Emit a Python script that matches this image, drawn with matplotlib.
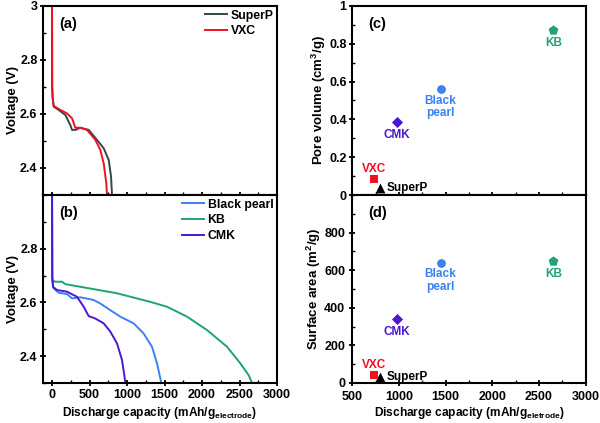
import numpy as np
import matplotlib.pyplot as plt
from matplotlib.ticker import MultipleLocator

plt.rcParams['font.family'] = ['Liberation Sans', 'DejaVu Sans']
plt.rcParams['font.weight'] = 'bold'
plt.rcParams['axes.labelweight'] = 'bold'
plt.rcParams['mathtext.fontset'] = 'custom'
plt.rcParams['mathtext.rm'] = 'Liberation Sans:bold'
plt.rcParams['mathtext.bf'] = 'Liberation Sans:bold'
plt.rcParams['mathtext.default'] = 'bf'

# discharge curves (capacity mAh/g, voltage V)
superp_cap = [0, 2, 9, 22, 89, 178, 244, 267, 311, 378, 489, 600, 689, 756, 787, 800]
superp_v = [3.05, 2.70, 2.66, 2.627, 2.615, 2.596, 2.559, 2.541, 2.541, 2.549, 2.541, 2.504, 2.473, 2.43, 2.368, 2.30]
vxc_cap = [0, 2, 8, 22, 111, 200, 267, 311, 378, 467, 578, 644, 689, 724, 733]
vxc_v = [3.05, 2.70, 2.66, 2.63, 2.615, 2.602, 2.584, 2.549, 2.549, 2.541, 2.504, 2.467, 2.417, 2.343, 2.30]
bp_cap = [0, 3, 22, 89, 200, 267, 378, 556, 644, 778, 911, 1089, 1222, 1333, 1400, 1458]
bp_v = [3.05, 2.68, 2.652, 2.636, 2.631, 2.615, 2.619, 2.609, 2.596, 2.571, 2.547, 2.522, 2.484, 2.435, 2.373, 2.30]
kb_cap = [0, 3, 44, 133, 178, 422, 867, 1311, 1533, 1800, 2067, 2333, 2511, 2622, 2667]
kb_v = [3.05, 2.683, 2.677, 2.677, 2.668, 2.656, 2.634, 2.602, 2.584, 2.547, 2.497, 2.435, 2.373, 2.329, 2.30]
cmk_cap = [0, 3, 13, 67, 200, 333, 422, 489, 578, 689, 778, 867, 933, 964, 978]
cmk_v = [3.05, 2.70, 2.658, 2.646, 2.64, 2.621, 2.584, 2.549, 2.540, 2.522, 2.491, 2.447, 2.386, 2.329, 2.30]

# properties vs capacity
names = ["SuperP", "VXC", "CMK", "Black\npearl", "KB"]
capacity = [795, 734, 979, 1447, 2655]
pore_volume = [0.035, 0.085, 0.386, 0.56, 0.875]
surface_area = [30, 43, 341, 640, 651]

c_superp_line = "#34464a"
c_vxc = "#f01020"
c_bp = "#3a82f2"
c_kb = "#1fa274"
c_cmk = "#4a18d2"
point_colors = ["black", c_vxc, c_cmk, c_bp, c_kb]
markers = ["^", "s", "D", "o", "p"]
msizes = [50, 40, 32, 40, 55]

fig = plt.figure(figsize=(6, 4.23), dpi=100)
ax_a = fig.add_axes([0.0717, 0.539, 0.39, 0.447])
ax_b = fig.add_axes([0.0717, 0.0946, 0.39, 0.4444])
ax_c = fig.add_axes([0.587, 0.539, 0.389, 0.447])
ax_d = fig.add_axes([0.587, 0.0946, 0.389, 0.4444])


def style(ax):
    for s in ax.spines.values():
        s.set_linewidth(1.5)
    ax.tick_params(which='major', direction='inout', length=5, width=1.3, labelsize=9, pad=1.5)
    ax.tick_params(which='minor', direction='in', length=2.5, width=1.0)


lw = 1.4
ax_a.plot(superp_cap, superp_v, color=c_superp_line, lw=lw, label="SuperP")
ax_a.plot(vxc_cap, vxc_v, color=c_vxc, lw=lw, label="VXC")
ax_b.plot(bp_cap, bp_v, color=c_bp, lw=lw, label="Black pearl")
ax_b.plot(kb_cap, kb_v, color=c_kb, lw=lw, label="KB")
ax_b.plot(cmk_cap, cmk_v, color=c_cmk, lw=lw, label="CMK")

for ax, letter in [(ax_a, "(a)"), (ax_b, "(b)")]:
    style(ax)
    ax.set_xlim(-120, 3000)
    ax.set_ylim(2.3, 3.0)
    ax.xaxis.set_major_locator(MultipleLocator(500))
    ax.xaxis.set_minor_locator(MultipleLocator(250))
    ax.yaxis.set_major_locator(MultipleLocator(0.2))
    ax.yaxis.set_minor_locator(MultipleLocator(0.1))
    ax.set_ylabel("Voltage (V)", fontsize=9.5, labelpad=1)
    ax.text(0.07, 0.905, letter, transform=ax.transAxes, fontsize=10.5, fontweight='bold', va='center')
    ax.legend(loc='upper right', frameon=False, fontsize=8.8, handlelength=1.8,
              handletextpad=0.3, labelspacing=0.3, borderpad=0.2, borderaxespad=0.1)

ax_a.set_yticks([2.4, 2.6, 2.8, 3.0])
ax_a.set_yticklabels(["2.4", "2.6", "2.8", "3"])
ax_a.tick_params(labelbottom=False)
ax_b.set_yticks([2.4, 2.6, 2.8])
ax_b.set_xticks([0, 500, 1000, 1500, 2000, 2500, 3000])
ax_b.set_xlabel(r"Discharge capacity (mAh/g$_{electrode}$)", fontsize=8.6, labelpad=3)

for i in range(len(names)):
    ax_c.scatter(capacity[i], pore_volume[i], marker=markers[i], s=msizes[i],
                 color=point_colors[i], zorder=3, linewidths=0)
    ax_d.scatter(capacity[i], surface_area[i], marker=markers[i], s=msizes[i],
                 color=point_colors[i], zorder=3, linewidths=0)

# label placements (offsets in points)
offsets = [(5, 0, 'left', 'center'), (0, 3, 'center', 'bottom'), (0, -5, 'center', 'top'),
           (0, -4, 'center', 'top'), (0, -5, 'center', 'top')]
for ax, yvals in [(ax_c, pore_volume), (ax_d, surface_area)]:
    for i in range(len(names)):
        dx, dy, ha, va = offsets[i]
        c = "black" if i == 0 else point_colors[i]
        ax.annotate(names[i], (capacity[i], yvals[i]), xytext=(dx, dy), textcoords='offset points',
                    ha=ha, va=va, color=c, fontsize=8.5, fontweight='bold', linespacing=1.05)

for ax in [ax_c, ax_d]:
    style(ax)
    ax.set_xlim(500, 3000)
    ax.xaxis.set_major_locator(MultipleLocator(500))
    ax.xaxis.set_minor_locator(MultipleLocator(250))

ax_c.set_ylim(0, 1)
ax_c.yaxis.set_major_locator(MultipleLocator(0.2))
ax_c.yaxis.set_minor_locator(MultipleLocator(0.1))
ax_c.set_yticks([0, 0.2, 0.4, 0.6, 0.8, 1.0])
ax_c.set_yticklabels(["0", "0.2", "0.4", "0.6", "0.8", "1"])
ax_c.tick_params(labelbottom=False)
ax_c.set_ylabel(r"Pore volume (cm$^3$/g)", fontsize=9.5, labelpad=1)
ax_c.text(0.07, 0.905, "(c)", transform=ax_c.transAxes, fontsize=10.5, fontweight='bold', va='center')

ax_d.set_ylim(0, 1000)
ax_d.set_yticks([0, 200, 400, 600, 800])
ax_d.yaxis.set_minor_locator(MultipleLocator(100))
ax_d.set_xticks([500, 1000, 1500, 2000, 2500, 3000])
ax_d.tick_params(axis='x', which='major', pad=3)
ax_d.tick_params(axis='y', which='major', pad=2.5)
ax_d.set_ylabel(r"Surface area (m$^2$/g)", fontsize=9.5, labelpad=1)
ax_d.set_xlabel(r"Discharge capacity (mAh/g$_{eletrode}$)", fontsize=8.6, labelpad=2)
ax_d.text(0.07, 0.905, "(d)", transform=ax_d.transAxes, fontsize=10.5, fontweight='bold', va='center')

fig.savefig("out.png", dpi=100)
